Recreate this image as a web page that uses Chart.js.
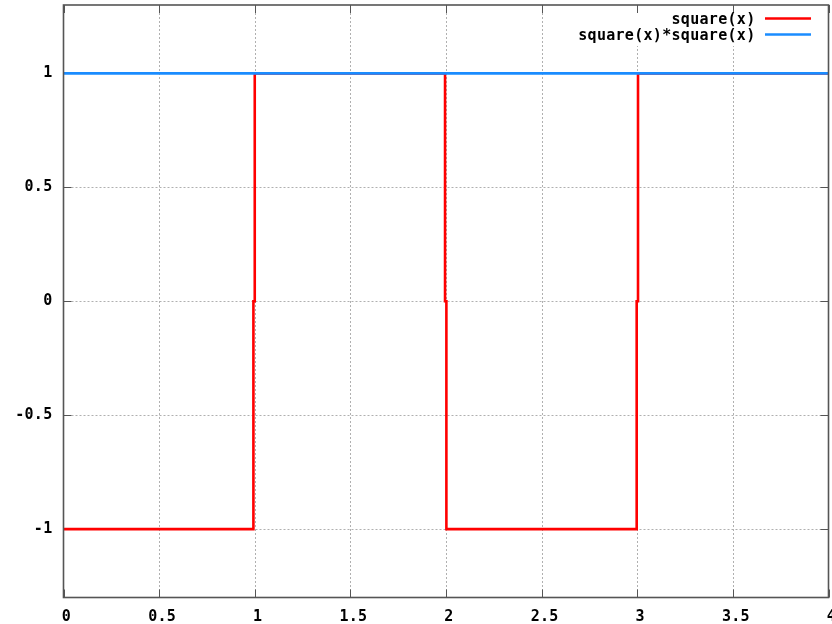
<!DOCTYPE html>
<html>
<head>
<meta charset="utf-8">
<script src="https://cdn.jsdelivr.net/npm/chart.js@4.4.1/dist/chart.umd.min.js"></script>
<style>
  html, body { margin: 0; padding: 0; background: #fff; overflow: hidden; }
  canvas { display: block; }
</style>
</head>
<body>
<canvas id="c" width="840" height="624" style="width:840px;height:624px"></canvas>
<script>
// ---- data ----
const seriesNames = ['square(x)', 'square(x)*square(x)'];
const squareX = [0, 0.993, 0.993, 1.0, 1.0, 1.995, 1.995, 2.002, 2.002, 2.997, 2.997, 3.004, 3.004, 4];
const squareY = [-1, -1, 0, 0, 1, 1, 0, 0, -1, -1, 0, 0, 1, 1];
const squareSqX = [0, 4];
const squareSqY = [1, 1];
const xTickValues = [0, 0.5, 1, 1.5, 2, 2.5, 3, 3.5, 4];
const xTickLabels = ['0', '0.5', '1', '1.5', '2', '2.5', '3', '3.5', '4'];
const yTickValues = [-1, -0.5, 0, 0.5, 1];
const yTickLabels = ['-1', '-0.5', '0', '0.5', '1'];
const xRange = [0, 4];
const yRange = [-1.3, 1.3];

const RED = '#ff0000';
const BLUE = '#1a8cff';
const FONT = 'bold 15px "DejaVu Sans Mono"';

const toPts = (xs, ys) => xs.map((x, i) => ({ x: x, y: ys[i] }));

function zeroPad(s) {
  s.paddingTop = 0; s.paddingBottom = 0; s.paddingLeft = 0; s.paddingRight = 0;
}

const gnuplotDeco = {
  id: 'gnuplotDeco',
  beforeDraw(chart) {
    chart.ctx.letterSpacing = '0.3px';
  },
  beforeDatasetsDraw(chart) {
    const ctx = chart.ctx;
    const a = chart.chartArea;
    const xs = chart.scales.x, ys = chart.scales.y;
    ctx.save();
    // dotted grid
    ctx.strokeStyle = '#b0b0b0';
    ctx.lineWidth = 1;
    ctx.setLineDash([2, 2]);
    xTickValues.forEach(v => {
      const px = Math.round(xs.getPixelForValue(v)) + 0.5;
      if (px <= a.left + 2 || px >= a.right - 2) return;
      ctx.beginPath(); ctx.moveTo(px, a.top); ctx.lineTo(px, a.bottom); ctx.stroke();
    });
    yTickValues.forEach(v => {
      const py = Math.round(ys.getPixelForValue(v)) + 0.5;
      if (py <= a.top + 2 || py >= a.bottom - 2) return;
      ctx.beginPath(); ctx.moveTo(a.left, py); ctx.lineTo(a.right, py); ctx.stroke();
    });
    ctx.setLineDash([]);
    // inward ticks on all sides
    ctx.strokeStyle = '#555';
    ctx.lineWidth = 1;
    const TL = 8;
    xTickValues.forEach(v => {
      const px = Math.round(xs.getPixelForValue(v)) + 0.5;
      ctx.beginPath(); ctx.moveTo(px, a.top); ctx.lineTo(px, a.top + TL); ctx.stroke();
      ctx.beginPath(); ctx.moveTo(px, a.bottom); ctx.lineTo(px, a.bottom - TL); ctx.stroke();
    });
    yTickValues.forEach(v => {
      const py = Math.round(ys.getPixelForValue(v)) + 0.5;
      ctx.beginPath(); ctx.moveTo(a.left, py); ctx.lineTo(a.left + TL, py); ctx.stroke();
      ctx.beginPath(); ctx.moveTo(a.right, py); ctx.lineTo(a.right - TL, py); ctx.stroke();
    });
    ctx.restore();
  },
  afterDatasetsDraw(chart) {
    const ctx = chart.ctx;
    const a = chart.chartArea;
    ctx.save();
    // border
    ctx.strokeStyle = '#555';
    ctx.lineWidth = 1.6;
    ctx.strokeRect(a.left, a.top, a.right - a.left, a.bottom - a.top);
    // key (opaque)
    ctx.fillStyle = '#fff';
    ctx.fillRect(570, 13, 250, 33);
    ctx.font = FONT;
    ctx.letterSpacing = '0.3px';
    ctx.textAlign = 'right';
    ctx.textBaseline = 'middle';
    ctx.fillStyle = '#000';
    const colors = [RED, BLUE];
    seriesNames.forEach((name, i) => {
      const y = 20.5 + i * 16;
      ctx.fillText(name, 755.5, y);
      ctx.strokeStyle = colors[i];
      ctx.lineWidth = 2.5;
      ctx.beginPath();
      ctx.moveTo(765, y - 2);
      ctx.lineTo(811, y - 2);
      ctx.stroke();
    });
    ctx.restore();
  }
};

new Chart(document.getElementById('c'), {
  type: 'scatter',
  data: {
    datasets: [
      {
        label: seriesNames[0],
        data: toPts(squareX, squareY),
        showLine: true,
        borderColor: RED,
        borderWidth: 2.6,
        pointRadius: 0,
        tension: 0,
        order: 1
      },
      {
        label: seriesNames[1],
        data: toPts(squareSqX, squareSqY),
        showLine: true,
        borderColor: BLUE,
        borderWidth: 2.7,
        pointRadius: 0,
        tension: 0,
        order: 0
      }
    ]
  },
  options: {
    responsive: false,
    animation: false,
    devicePixelRatio: 1,
    layout: { padding: { top: 5, right: 11.5, left: 0, bottom: 0 } },
    plugins: {
      legend: { display: false },
      tooltip: { enabled: false }
    },
    scales: {
      x: {
        type: 'linear',
        min: xRange[0],
        max: xRange[1],
        afterBuildTicks(s) { s.ticks = xTickValues.map(v => ({ value: v })); },
        afterFit(s) { s.height = 26.5; zeroPad(s); },
        grid: { display: false, drawTicks: false },
        border: { display: false },
        ticks: {
          autoSkip: false,
          maxRotation: 0,
          padding: 11,
          labelOffset: 3,
          color: '#000',
          font: { family: 'DejaVu Sans Mono', weight: 'bold', size: 15 },
          callback: (v, i) => xTickLabels[i]
        }
      },
      y: {
        type: 'linear',
        min: yRange[0],
        max: yRange[1],
        afterBuildTicks(s) { s.ticks = yTickValues.map(v => ({ value: v })); },
        afterFit(s) { s.width = 63.5; zeroPad(s); },
        grid: { display: false, drawTicks: false },
        border: { display: false },
        ticks: {
          autoSkip: false,
          padding: 11,
          color: '#000',
          font: { family: 'DejaVu Sans Mono', weight: 'bold', size: 15 },
          callback: (v, i) => yTickLabels[i]
        }
      }
    }
  },
  plugins: [gnuplotDeco]
});
</script>
</body>
</html>
